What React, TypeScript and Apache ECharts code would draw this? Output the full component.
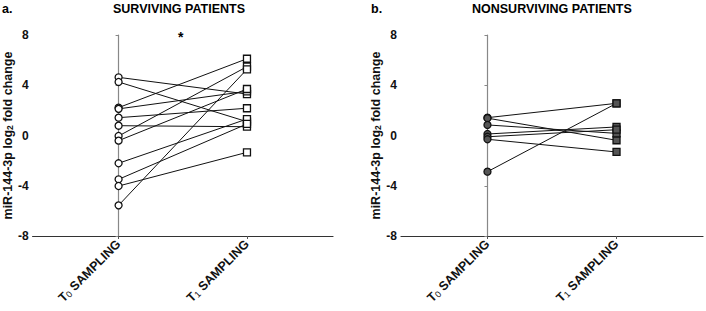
import React, { useEffect, useRef } from "react";
import * as echarts from "echarts";

const timepoints = ["T0", "T1"];
const survT0 = [4.63, 4.26, 2.22, 2.12, 1.42, 0.78, -0.04, -0.41, -2.21, -3.49, -4.02, -5.56];
const survT1 = [3.3, 1.1, 6.11, 3.52, 2.17, 0.7, 5.48, 3.7, 1.31, 0.92, -1.34, 5.27];
const nonT0 = [1.42, 1.38, 0.84, 0.12, -0.1, -0.3, -2.88];
const nonT1 = [2.56, -0.38, 0.17, 0.68, 0.46, -1.31, 2.56];
const yTicks = [-8, -4, 0, 4, 8];

const FONT = "'Liberation Sans', Arial, sans-serif";

export default function App() {
  const ref = useRef<HTMLDivElement>(null);
  useEffect(() => {
    document.body.style.margin = "0";
    if (!ref.current) return;
    const chart = echarts.init(ref.current, null, { renderer: "svg" });

    const mkX = (idx: number) => ({
      type: "value",
      gridIndex: idx,
      min: -0.67,
      max: 1.67,
      splitLine: { show: false },
      axisLine: { onZero: false, lineStyle: { color: "#333", width: 1.2 } },
      axisTick: { show: true, customValues: [0, 1], length: 3, lineStyle: { color: "#555" } },
      axisLabel: {
        customValues: [0, 1],
        rotate: 45,
        margin: 6,
        formatter: (v: number) => `{a|T}{b|${v === 0 ? "0" : "1"}}{a| SAMPLING}`,
        rich: {
          a: { fontFamily: FONT, fontWeight: "bold", fontSize: 12.5, color: "#111" },
          b: { fontFamily: FONT, fontWeight: "normal", fontSize: 9, color: "#111", verticalAlign: "bottom" },
        },
      },
    });
    const mkY = (idx: number) => ({
      type: "value",
      gridIndex: idx,
      min: -8,
      max: 8,
      interval: 4,
      splitLine: { show: false },
      axisLine: { show: true, lineStyle: { color: "#888", width: 1.2 } },
      axisTick: { show: true, length: 3, lineStyle: { color: "#888" } },
      axisLabel: {
        margin: 4,
        fontFamily: FONT,
        fontWeight: "bold",
        fontSize: 12,
        color: "#111",
        formatter: (v: number) => (yTicks.includes(v) ? String(v) : ""),
      },
      name: "miR-144-3p log{s|2} fold change",
      nameLocation: "middle",
      nameGap: 15,
      nameTextStyle: {
        fontFamily: FONT,
        fontWeight: "bold",
        fontSize: 12.5,
        color: "#111",
        rich: {
          s: { fontFamily: FONT, fontWeight: "bold", fontSize: 8.5, color: "#111", verticalAlign: "bottom" },
        },
      },
    });

    const series: any[] = [];
    const addPairs = (t0: number[], t1: number[], idx: number, fill: string) => {
      t0.forEach((v, i) => {
        series.push({
          type: "line",
          xAxisIndex: idx,
          yAxisIndex: idx,
          data: [
            [0, v],
            [1, t1[i]],
          ],
          symbol: (_v: any, p: any) => (p.dataIndex === 0 ? "circle" : "rect"),
          symbolSize: 7,
          showSymbol: true,
          lineStyle: { color: "#111", width: 1 },
          itemStyle: { color: fill, borderColor: "#111", borderWidth: 1.3 },
          z: 3,
        });
      });
    };
    addPairs(survT0, survT1, 0, "#fff");
    addPairs(nonT0, nonT1, 1, "#555");

    const titleStyle = { fontFamily: FONT, fontWeight: "bold", fontSize: 12.5, color: "#111" };

    chart.setOption({
      animation: false,
      backgroundColor: "#fff",
      grid: [
        { left: 31, right: 373, top: 35, bottom: 75 },
        { left: 401, right: 3, top: 35, bottom: 75 },
      ],
      xAxis: [mkX(0), mkX(1)],
      yAxis: [mkY(0), mkY(1)],
      series,
      graphic: [
        { type: "text", left: 2, top: 2, style: { text: "a.", ...titleStyle } },
        { type: "text", left: 113, top: 2, style: { text: "SURVIVING PATIENTS", ...titleStyle } },
        { type: "text", left: 371, top: 2, style: { text: "b.", ...titleStyle } },
        { type: "text", left: 472, top: 2, style: { text: "NONSURVIVING PATIENTS", ...titleStyle } },
        { type: "text", left: 178, top: 30, style: { text: "*", ...titleStyle, fontSize: 14 } },
      ],
    });
    return () => chart.dispose();
  }, []);
  return <div ref={ref} style={{ width: 706, height: 311 }} />;
}
